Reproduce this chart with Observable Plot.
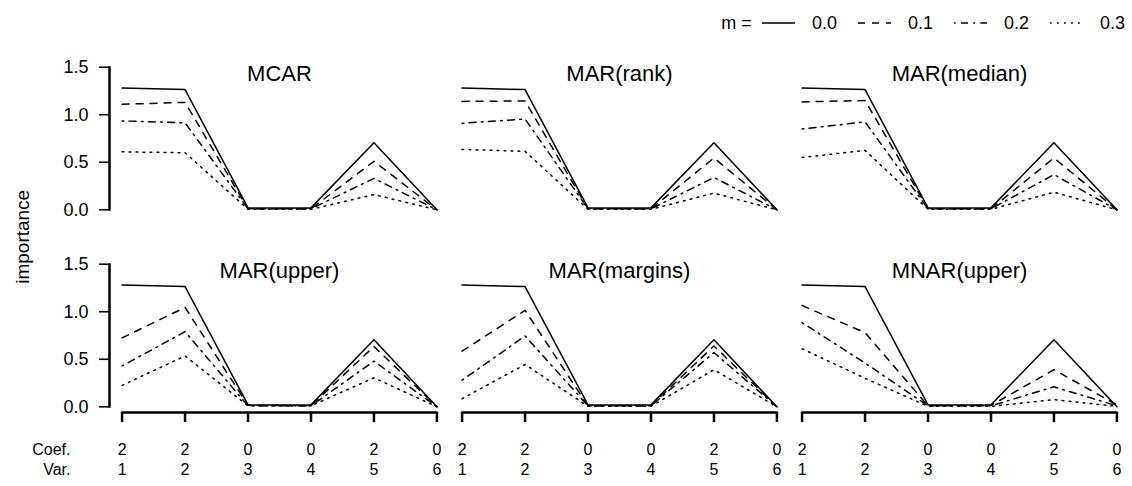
<!DOCTYPE html>
<html>
<head>
<meta charset="utf-8">
<script src="https://cdn.jsdelivr.net/npm/d3@7"></script>
<script src="https://cdn.jsdelivr.net/npm/@observablehq/plot@0.6"></script>
<style>
  body { margin: 0; background: #fff; font-family: "Liberation Sans", Arial, Helvetica, sans-serif; }
  #wrap { width: 1132px; height: 486px; position: relative; overflow: hidden; background: #fff; }
  #legend { height: 40px; position: relative; }
  #legend .row { position: absolute; right: 7px; top: 13px; height: 20px; display: flex; align-items: center; font-size: 18px; color: #000; white-space: nowrap; }
  #legend .mlab { margin-right: 10px; }
  #legend svg { display: block; margin-right: 17px; }
  #legend .lab { margin-right: 21px; }
  #legend .lab:last-child { margin-right: 0; }
</style>
</head>
<body>
<div id="wrap">
  <div id="legend"></div>
  <div id="chart"></div>
</div>
<script>
// ---- data ----
const panels = ["MCAR", "MAR(rank)", "MAR(median)", "MAR(upper)", "MAR(margins)", "MNAR(upper)"];
const varIds = [1, 2, 3, 4, 5, 6];
const coefs = [2, 2, 0, 0, 2, 0];
const mLevels = ["0.0", "0.1", "0.2", "0.3"];
const yTicks = [0, 0.5, 1.0, 1.5];

// each panel: one row of 6 importance values per m level (0.0, 0.1, 0.2, 0.3)
const mcar = [
  [1.28, 1.265, 0.02, 0.02, 0.705, 0],
  [1.11, 1.13, 0.01, 0.01, 0.51, 0],
  [0.935, 0.915, 0.01, 0.01, 0.33, 0],
  [0.61, 0.60, 0.005, 0.005, 0.16, 0]
];
const marRank = [
  [1.28, 1.265, 0.02, 0.02, 0.705, 0],
  [1.14, 1.145, 0.01, 0.01, 0.545, 0],
  [0.91, 0.955, 0.01, 0.01, 0.34, 0],
  [0.635, 0.615, 0.005, 0.005, 0.175, 0]
];
const marMedian = [
  [1.28, 1.265, 0.02, 0.02, 0.705, 0],
  [1.135, 1.15, 0.01, 0.01, 0.545, 0],
  [0.85, 0.925, 0.01, 0.01, 0.37, 0],
  [0.55, 0.625, 0.005, 0.005, 0.185, 0]
];
const marUpper = [
  [1.28, 1.265, 0.02, 0.02, 0.705, 0],
  [0.725, 1.045, 0.015, 0.01, 0.635, 0],
  [0.43, 0.79, 0.01, 0.01, 0.48, 0],
  [0.225, 0.535, 0.01, 0.01, 0.305, 0]
];
const marMargins = [
  [1.28, 1.265, 0.02, 0.02, 0.705, 0],
  [0.585, 1.015, 0.01, 0.01, 0.64, 0],
  [0.28, 0.745, 0.01, 0.01, 0.57, 0],
  [0.085, 0.445, 0.005, 0.005, 0.39, 0]
];
const mnarUpper = [
  [1.28, 1.265, 0.02, 0.02, 0.705, 0],
  [1.065, 0.78, 0.01, 0.015, 0.39, 0.02],
  [0.885, 0.46, 0.01, 0.01, 0.21, 0.01],
  [0.61, 0.30, 0.005, 0.005, 0.075, 0.005]
];
const panelValues = [mcar, marRank, marMedian, marUpper, marMargins, mnarUpper];

// ---- styles ----
const dashes = [null, "7,7", "1.75,5.25,7,5.25", "1.75,5.25"];
const fontFamily = "'Liberation Sans', Arial, Helvetica, sans-serif";
const ink = "#000";
const axisWidth = 2.5;

// ---- tidy table ----
const rows = [];
panels.forEach((p, pi) => {
  panelValues[pi].forEach((vals, mi) => {
    vals.forEach((v, k) => {
      rows.push({panel: p, col: pi % 3, row: Math.floor(pi / 3), m: mLevels[mi], v: varIds[k], value: v});
    });
  });
});
const panelInfo = panels.map((p, pi) => ({panel: p, col: pi % 3, row: Math.floor(pi / 3)}));
const leftFacets = panelInfo.filter(d => d.col === 0);
const bottomFacets = panelInfo.filter(d => d.row === 1);

// R-like 4% axis extension
const xDomain = [varIds[0] - 0.04 * (varIds[5] - varIds[0]), varIds[5] + 0.04 * (varIds[5] - varIds[0])];
const yDomain = [yTicks[0] - 0.04 * (yTicks[3] - yTicks[0]), yTicks[3] + 0.04 * (yTicks[3] - yTicks[0])];

// R-style axis lines, built from the tick arrays
const yAxisPts = leftFacets.flatMap(f => [yTicks[0], yTicks[yTicks.length - 1]].map(y => ({...f, ax: xDomain[0], ay: y})));
const xAxisPts = bottomFacets.flatMap(f => [varIds[0], varIds[varIds.length - 1]].map(x => ({...f, ax: x, ay: yDomain[0]})));

const chart = Plot.plot({
  width: 1132,
  height: 446,
  marginLeft: 108.4,
  marginRight: 1.4,
  marginTop: 20.8,
  marginBottom: 72.8,
  style: {fontFamily, fontSize: "16px", color: ink, background: "#fff"},
  x: {domain: xDomain},
  y: {domain: yDomain},
  fx: {domain: [0, 1, 2], paddingInner: 0, paddingOuter: 0, axis: null},
  fy: {domain: [0, 1], paddingInner: 0.216, paddingOuter: 0, axis: null},
  marks: [
    Plot.axisY({ticks: yTicks, tickFormat: d => d.toFixed(1), tickSize: 10, tickPadding: 11, fontSize: 18, label: null, stroke: ink, strokeWidth: 1.6}),
    Plot.axisX({ticks: varIds, tickFormat: d => coefs[varIds.indexOf(d)] + "\n" + d, tickSize: 10, tickPadding: 19, fontSize: 16, lineHeight: 1.22, label: null, stroke: ink, strokeWidth: axisWidth}),
    Plot.line(yAxisPts, {fx: "col", fy: "row", x: "ax", y: "ay", z: "row", stroke: ink, strokeWidth: axisWidth}),
    Plot.line(xAxisPts, {fx: "col", fy: "row", x: "ax", y: "ay", z: "col", stroke: ink, strokeWidth: axisWidth}),
    ...mLevels.map((m, i) => Plot.line(rows.filter(d => d.m === m), {
      x: "v", y: "value", fx: "col", fy: "row", stroke: ink, strokeWidth: 1.5,
      strokeDasharray: dashes[i], strokeLinejoin: "round"
    })),
    Plot.text(panelInfo, {fx: "col", fy: "row", text: "panel", frameAnchor: "top", dy: 12, lineAnchor: "middle", fontSize: 22, fill: ink}),
    Plot.text(bottomFacets.filter(d => d.col === 0), {fx: "col", fy: "row", text: () => "Coef.\nVar.", frameAnchor: "bottom-left",
      textAnchor: "end", lineAnchor: "top", dx: -39, dy: 29, fontSize: 16, lineHeight: 1.22, fill: ink}),
    Plot.text(leftFacets.filter(d => d.row === 0), {fx: "col", fy: "row", text: () => "importance", frameAnchor: "bottom-left",
      rotate: -90, dx: -86.4, dy: 21.3, fontSize: 19, textAnchor: "middle", lineAnchor: "middle", fill: ink})
  ]
});
document.getElementById("chart").appendChild(chart);

// ---- legend (above the SVG) ----
const legendRow = document.createElement("div");
legendRow.className = "row";
const mlab = document.createElement("span");
mlab.className = "mlab";
mlab.textContent = "m =";
legendRow.appendChild(mlab);
mLevels.forEach((m, i) => {
  const ns = "http://www.w3.org/2000/svg";
  const s = document.createElementNS(ns, "svg");
  s.setAttribute("width", 33); s.setAttribute("height", 10);
  const l = document.createElementNS(ns, "line");
  l.setAttribute("x1", 0); l.setAttribute("x2", 33); l.setAttribute("y1", 5); l.setAttribute("y2", 5);
  l.setAttribute("stroke", ink); l.setAttribute("stroke-width", 1.5);
  if (dashes[i]) l.setAttribute("stroke-dasharray", dashes[i]);
  s.appendChild(l);
  legendRow.appendChild(s);
  const t = document.createElement("span");
  t.className = "lab";
  t.textContent = m;
  legendRow.appendChild(t);
});
document.getElementById("legend").appendChild(legendRow);
</script>
</body>
</html>
